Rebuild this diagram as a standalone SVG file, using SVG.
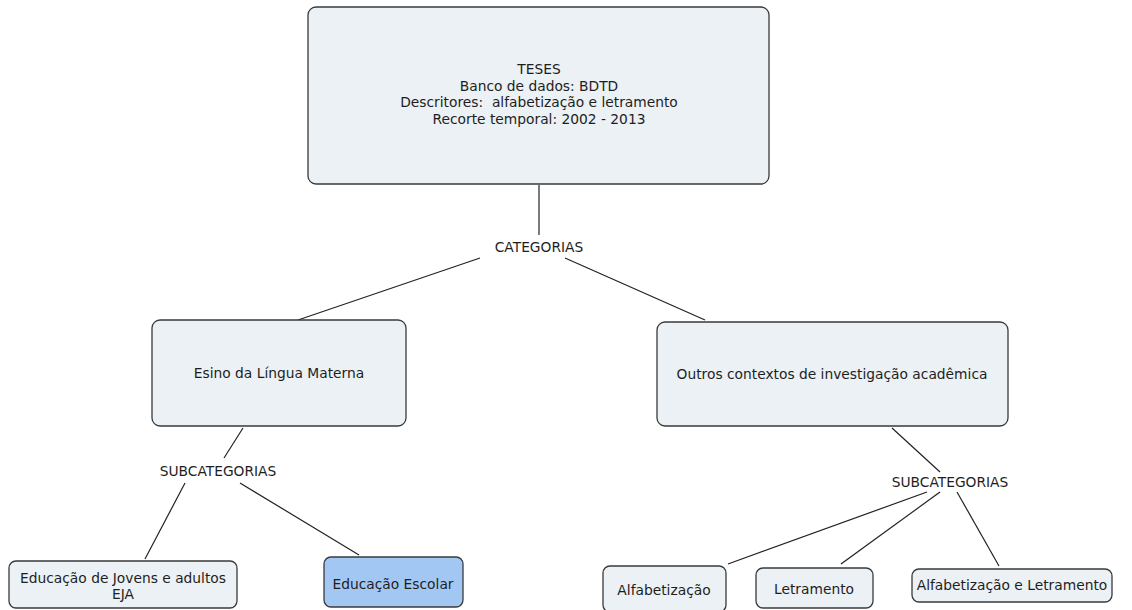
<svg xmlns="http://www.w3.org/2000/svg" width="1132" height="610" viewBox="0 0 1132 610">
<style>
.n{fill:#ebf1f4;stroke:#3a3a3a;stroke-width:1.3}
.b{fill:#a3c7f3;stroke:#3a3a3a;stroke-width:1.3}
text{font-family:"DejaVu Sans",Verdana,sans-serif;font-size:13.8px;fill:#1e1e1e;text-anchor:middle}
.c line{stroke:#222;stroke-width:1.2}
</style>
<rect width="1132" height="610" fill="#fff"/>
<g class="c" id="connectors">
<line x1="539" y1="185" x2="539" y2="235"/>
<line x1="480" y1="258" x2="298" y2="320"/>
<line x1="565" y1="258" x2="705" y2="320"/>
<line x1="243" y1="428" x2="224" y2="458"/>
<line x1="185" y1="483" x2="145" y2="559"/>
<line x1="240" y1="483" x2="359" y2="555"/>
<line x1="892" y1="428" x2="940" y2="472"/>
<line x1="927" y1="492" x2="728" y2="564"/>
<line x1="940" y1="492" x2="841" y2="564"/>
<line x1="957" y1="492" x2="999" y2="566"/>
</g>
<g id="teses">
<rect class="n" x="308" y="7" width="461" height="177" rx="8"/>
<text x="539" y="74">TESES</text>
<text x="539" y="91">Banco de dados: BDTD</text>
<text x="539" y="107" xml:space="preserve">Descritores:  alfabetização e letramento</text>
<text x="539" y="124">Recorte temporal: 2002 - 2013</text>
</g>
<g id="categorias"><text x="539" y="252">CATEGORIAS</text></g>
<g id="lingua">
<rect class="n" x="152" y="320" width="254" height="106" rx="8"/>
<text x="279" y="378">Esino da Língua Materna</text>
</g>
<g id="outros">
<rect class="n" x="657" y="322" width="351" height="104" rx="8"/>
<text x="832" y="379">Outros contextos de investigação acadêmica</text>
</g>
<g id="sub1"><text x="218" y="476">SUBCATEGORIAS</text></g>
<g id="sub2"><text x="950" y="487">SUBCATEGORIAS</text></g>
<g id="eja">
<rect class="n" x="9" y="561" width="228" height="47" rx="7"/>
<text x="123" y="583">Educação de Jovens e adultos</text>
<text x="123" y="599">EJA</text>
</g>
<g id="escolar">
<rect class="b" x="324" y="557" width="139" height="50" rx="7"/>
<text x="393" y="589">Educação Escolar</text>
</g>
<g id="alfa">
<rect class="n" x="603" y="566" width="123" height="46" rx="7"/>
<text x="664" y="595">Alfabetização</text>
</g>
<g id="letra">
<rect class="n" x="756" y="568" width="117" height="40" rx="7"/>
<text x="814" y="594">Letramento</text>
</g>
<g id="alfaletra">
<rect class="n" x="912" y="569" width="200" height="33" rx="7"/>
<text x="1012" y="590">Alfabetização e Letramento</text>
</g>
</svg>
